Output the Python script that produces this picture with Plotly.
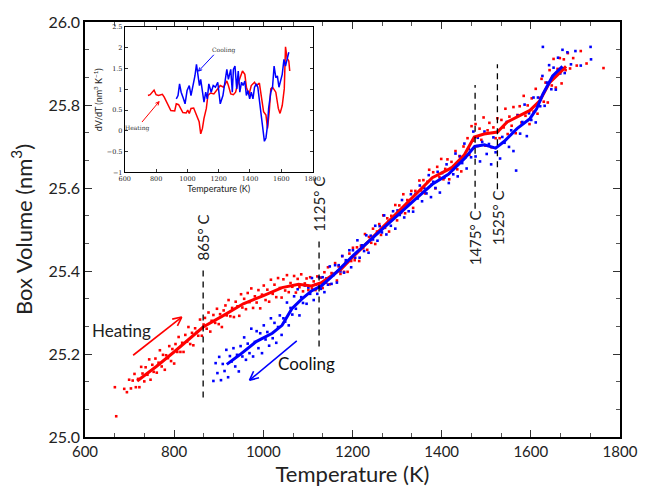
import math
import plotly.graph_objects as go

# ---------------- data ----------------
heat_line_T = [717, 760, 801, 865, 911, 955, 999, 1042, 1079, 1108, 1130, 1174, 1203, 1250, 1300, 1340,
               1379, 1423, 1451, 1473, 1495, 1525, 1547, 1576, 1598, 1620, 1642, 1664, 1679]
heat_line_V = [25.135, 25.170, 25.206, 25.265, 25.293, 25.321, 25.340, 25.360, 25.368, 25.364, 25.372,
               25.404, 25.436, 25.486, 25.540, 25.583, 25.625, 25.649, 25.680, 25.723, 25.730, 25.735,
               25.759, 25.775, 25.787, 25.810, 25.854, 25.877, 25.893]

cool_line_T = [918, 947, 984, 1020, 1042, 1064, 1086, 1108, 1130, 1159, 1203, 1250, 1300, 1340, 1379,
               1415, 1452, 1474, 1496, 1521, 1540, 1569, 1598, 1613, 1627, 1649, 1671]
cool_line_V = [25.175, 25.198, 25.230, 25.250, 25.269, 25.309, 25.332, 25.352, 25.364, 25.392, 25.439,
               25.485, 25.535, 25.572, 25.609, 25.633, 25.672, 25.700, 25.704, 25.696, 25.712, 25.743,
               25.767, 25.791, 25.826, 25.870, 25.893]

heat_pts_T = [670, 667, 688, 694, 699, 703, 707, 711, 714, 719, 722, 726, 729, 733, 736, 740, 744, 747, 751,
              754, 758, 761, 765, 768, 772, 775, 779, 782, 786, 789, 793, 796, 800, 803, 807, 810, 814, 818,
              821, 825, 829, 832, 836, 840, 843, 847, 851, 854, 858, 862, 866, 869, 873, 877, 881, 884, 888,
              892, 896, 900, 903, 907, 911, 915, 918, 922, 926, 930, 934, 938, 942, 946, 950, 953, 957, 961,
              965, 969, 973, 977, 981, 985, 989, 993, 997, 1001, 1005, 1009, 1013, 1017, 1021, 1025, 1029,
              1033, 1037, 1041, 1045, 1049, 1053, 1057, 1061, 1065, 1069, 1073, 1077, 1081, 1085, 1089, 1093,
              1097, 1101, 1105, 1109, 1113, 1117, 1121, 1125, 1129, 1133, 1137, 1141, 1145, 1149, 1153, 1157,
              1161, 1165, 1169, 1173, 1177, 1181, 1185, 1189, 1193, 1197, 1201, 1205, 1210, 1215, 1219, 1224,
              1228, 1233, 1237, 1242, 1246, 1251, 1255, 1260, 1264, 1269, 1273, 1278, 1282, 1287, 1291, 1296,
              1300, 1305, 1309, 1314, 1318, 1323, 1327, 1332, 1336, 1341, 1345, 1350, 1354, 1359, 1363, 1368,
              1372, 1377, 1381, 1386, 1390, 1395, 1399, 1404, 1408, 1413, 1417, 1422, 1426, 1431, 1435, 1440,
              1444, 1449, 1453, 1458, 1462, 1467, 1471, 1476, 1480, 1485, 1489, 1494, 1498, 1503, 1507, 1512,
              1516, 1521, 1525, 1530, 1534, 1539, 1543, 1548, 1552, 1557, 1561, 1566, 1570, 1575, 1579, 1584,
              1588, 1593, 1597, 1602, 1606, 1611, 1615, 1620, 1624, 1629, 1633, 1638, 1642, 1647, 1651, 1656,
              1660, 1665, 1669, 1674, 1678, 1683, 1688, 1695, 1703, 1712, 1725, 1763]
heat_pts_V = [25.050, 25.120, 25.116, 25.108, 25.138, 25.117, 25.136, 25.152, 25.120, 25.140, 25.120, 25.169,
              25.153, 25.134, 25.168, 25.150, 25.187, 25.138, 25.174, 25.157, 25.189, 25.155, 25.179, 25.209,
              25.170, 25.198, 25.162, 25.197, 25.190, 25.219, 25.183, 25.212, 25.177, 25.224, 25.205, 25.241,
              25.205, 25.227, 25.205, 25.246, 25.230, 25.265, 25.224, 25.251, 25.221, 25.262, 25.253, 25.244,
              25.283, 25.244, 25.271, 25.287, 25.261, 25.300, 25.254, 25.280, 25.294, 25.275, 25.309, 25.272,
              25.296, 25.265, 25.305, 25.317, 25.293, 25.330, 25.291, 25.311, 25.289, 25.326, 25.315, 25.292,
              25.344, 25.312, 25.333, 25.308, 25.347, 25.325, 25.358, 25.311, 25.339, 25.324, 25.354, 25.310,
              25.343, 25.365, 25.330, 25.355, 25.326, 25.379, 25.345, 25.367, 25.337, 25.383, 25.359, 25.336,
              25.380, 25.353, 25.390, 25.349, 25.371, 25.362, 25.388, 25.348, 25.381, 25.361, 25.392, 25.351,
              25.370, 25.382, 25.354, 25.385, 25.358, 25.375, 25.354, 25.387, 25.366, 25.384, 25.359, 25.397,
              25.372, 25.409, 25.368, 25.395, 25.390, 25.419, 25.377, 25.411, 25.393, 25.436, 25.398, 25.421,
              25.398, 25.442, 25.424, 25.456, 25.426, 25.457, 25.424, 25.461, 25.455, 25.489, 25.451, 25.482,
              25.468, 25.502, 25.465, 25.495, 25.513, 25.487, 25.534, 25.504, 25.527, 25.495, 25.533, 25.529,
              25.559, 25.522, 25.558, 25.540, 25.585, 25.539, 25.571, 25.563, 25.593, 25.552, 25.593, 25.576,
              25.618, 25.594, 25.619, 25.587, 25.615, 25.644, 25.608, 25.638, 25.599, 25.651, 25.626, 25.670,
              25.621, 25.646, 25.669, 25.621, 25.663, 25.646, 25.689, 25.645, 25.677, 25.640, 25.700, 25.674,
              25.720, 25.680, 25.749, 25.714, 25.754, 25.701, 25.743, 25.716, 25.770, 25.702, 25.739, 25.757,
              25.698, 25.746, 25.720, 25.768, 25.720, 25.764, 25.746, 25.791, 25.730, 25.772, 25.750, 25.795,
              25.732, 25.776, 25.797, 25.758, 25.822, 25.774, 25.799, 25.754, 25.816, 25.784, 25.839, 25.779,
              25.817, 25.863, 25.808, 25.854, 25.806, 25.884, 25.847, 25.911, 25.842, 25.887, 25.913, 25.852,
              25.910, 25.884, 25.925, 25.888, 25.913, 25.895, 25.930, 25.900, 25.889]

cool_pts_T = [888, 893, 897, 901, 905, 909, 913, 917, 921, 925, 929, 933, 937, 941, 945, 949, 953, 957, 961,
              965, 969, 973, 977, 981, 985, 989, 993, 997, 1001, 1005, 1009, 1013, 1017, 1021, 1025, 1029,
              1033, 1037, 1041, 1045, 1049, 1053, 1057, 1061, 1065, 1069, 1073, 1077, 1081, 1085, 1089, 1093,
              1097, 1101, 1105, 1109, 1113, 1117, 1121, 1125, 1129, 1133, 1137, 1141, 1145, 1149, 1153, 1157,
              1161, 1165, 1169, 1173, 1177, 1181, 1185, 1189, 1193, 1197, 1201, 1206, 1211, 1216, 1221, 1226,
              1231, 1236, 1241, 1246, 1251, 1256, 1261, 1266, 1271, 1276, 1281, 1286, 1291, 1296, 1301, 1306,
              1311, 1316, 1321, 1326, 1331, 1336, 1341, 1346, 1351, 1356, 1361, 1366, 1371, 1376, 1381, 1386,
              1391, 1396, 1401, 1406, 1411, 1416, 1421, 1426, 1431, 1436, 1441, 1446, 1451, 1456, 1461, 1466,
              1471, 1476, 1481, 1486, 1491, 1496, 1501, 1506, 1511, 1516, 1521, 1526, 1531, 1536, 1541, 1546,
              1551, 1556, 1561, 1567, 1571, 1576, 1581, 1586, 1591, 1596, 1601, 1606, 1611, 1616, 1621, 1626,
              1627, 1631, 1636, 1641, 1646, 1651, 1656, 1661, 1666, 1671, 1676, 1682, 1690, 1700, 1712, 1734,
              1735]
cool_pts_V = [25.135, 25.178, 25.154, 25.193, 25.137, 25.176, 25.159, 25.210, 25.144, 25.195, 25.182, 25.214,
              25.170, 25.198, 25.158, 25.219, 25.194, 25.240, 25.186, 25.225, 25.202, 25.261, 25.194, 25.229,
              25.255, 25.214, 25.250, 25.202, 25.269, 25.235, 25.253, 25.220, 25.286, 25.238, 25.275, 25.227,
              25.265, 25.293, 25.246, 25.286, 25.278, 25.324, 25.269, 25.311, 25.295, 25.339, 25.309, 25.356,
              25.293, 25.337, 25.323, 25.365, 25.321, 25.360, 25.345, 25.383, 25.330, 25.367, 25.345, 25.385,
              25.357, 25.385, 25.349, 25.382, 25.367, 25.411, 25.369, 25.393, 25.414, 25.372, 25.414, 25.399,
              25.436, 25.396, 25.426, 25.422, 25.450, 25.409, 25.450, 25.432, 25.474, 25.432, 25.462, 25.448,
              25.486, 25.444, 25.485, 25.476, 25.509, 25.473, 25.508, 25.493, 25.534, 25.488, 25.520, 25.509,
              25.544, 25.502, 25.546, 25.535, 25.571, 25.529, 25.561, 25.544, 25.585, 25.543, 25.586, 25.575,
              25.606, 25.568, 25.600, 25.587, 25.631, 25.578, 25.615, 25.600, 25.639, 25.589, 25.636, 25.625,
              25.657, 25.612, 25.648, 25.633, 25.683, 25.628, 25.676, 25.660, 25.707, 25.647, 25.694, 25.674,
              25.736, 25.676, 25.721, 25.664, 25.711, 25.736, 25.682, 25.706, 25.657, 25.722, 25.686, 25.736,
              25.671, 25.723, 25.709, 25.759, 25.699, 25.739, 25.689, 25.642, 25.775, 25.731, 25.759, 25.801,
              25.725, 25.780, 25.764, 25.818, 25.758, 25.818, 25.797, 25.870, 25.940, 25.798, 25.854, 25.896,
              25.838, 25.890, 25.837, 25.914, 25.876, 25.933, 25.877, 25.927, 25.898, 25.930, 25.895, 25.940,
              25.910]

inset_heat_T = [748, 762, 787, 800, 815, 825, 840, 852, 877, 894, 919, 929, 944, 971, 992, 1002, 1012, 1023,
                1040, 1050, 1075, 1085, 1096, 1106, 1121, 1131, 1148, 1169, 1190, 1210, 1231, 1252, 1262, 1277,
                1294, 1308, 1319, 1335, 1352, 1367, 1377, 1394, 1408, 1429, 1440, 1460, 1471, 1487, 1502, 1512,
                1523, 1533, 1544, 1565, 1581, 1592, 1606, 1619, 1627, 1637, 1648, 1654]
inset_heat_dV = [0.85, 0.87, 0.98, 0.87, 0.85, 0.87, 0.88, 0.81, 0.61, 0.49, 0.48, 0.65, 0.63, 0.44, 0.43,
                 0.50, 0.42, 0.54, 0.55, 0.46, 0.22, -0.07, 0.06, 0.30, 0.54, 0.85, 0.91, 0.89, 0.99, 1.09,
                 1.05, 1.20, 1.09, 0.89, 0.87, 0.93, 1.09, 1.28, 1.44, 1.36, 1.05, 0.87, 1.09, 1.17, 1.09,
                 1.15, 0.89, 0.46, 0.38, 0.06, 0.46, 1.01, 1.05, 0.93, 0.54, 0.42, 0.61, 1.01, 2.02, 1.75,
                 1.68, 1.44]

inset_cool_T = [929, 940, 950, 960, 975, 985, 998, 1012, 1023, 1040, 1048, 1058, 1069, 1077, 1085, 1096, 1106,
                1117, 1127, 1137, 1152, 1165, 1179, 1194, 1210, 1227, 1242, 1252, 1262, 1277, 1287, 1294, 1304,
                1315, 1325, 1335, 1346, 1356, 1367, 1377, 1387, 1398, 1408, 1419, 1429, 1440, 1450, 1460, 1471,
                1481, 1492, 1502, 1512, 1519, 1527, 1533, 1544, 1554, 1565, 1575, 1585, 1596, 1606, 1617, 1627,
                1637, 1648]
inset_cool_dV = [0.77, 0.85, 1.13, 0.93, 0.77, 0.65, 0.97, 1.09, 0.85, 1.17, 1.32, 1.60, 1.28, 1.09, 1.24,
                 0.93, 0.69, 0.93, 0.77, 1.13, 0.93, 1.09, 1.05, 1.17, 0.65, 0.85, 1.28, 1.48, 1.24, 1.48,
                 0.93, 1.48, 1.56, 1.01, 1.44, 0.93, 1.17, 1.09, 1.20, 0.85, 0.97, 0.77, 0.93, 0.77, 1.05,
                 1.13, 1.05, 0.77, 0.38, 0.06, -0.25, -0.17, 0.14, 0.54, 0.85, 0.93, 1.05, 1.56, 1.28, 1.32,
                 1.05, 1.24, 1.36, 1.72, 1.56, 1.72, 1.89]

transition_T = [865, 1125, 1475, 1525]
transition_labels = ["865° C", "1125° C", "1475° C", "1525° C"]

RED = "#ff0000"
BLUE = "#0000ff"
FONT = "Lato"

# ---------------- figure ----------------
fig = go.Figure()

fig.add_trace(go.Scatter(x=heat_pts_T, y=heat_pts_V, mode="markers",
                         marker=dict(color=RED, size=2.6, symbol="square"), showlegend=False))
fig.add_trace(go.Scatter(x=cool_pts_T, y=cool_pts_V, mode="markers",
                         marker=dict(color=BLUE, size=2.6, symbol="square"), showlegend=False))
fig.add_trace(go.Scatter(x=heat_line_T, y=heat_line_V, mode="lines",
                         line=dict(color=RED, width=3), showlegend=False))
fig.add_trace(go.Scatter(x=cool_line_T, y=cool_line_V, mode="lines",
                         line=dict(color=BLUE, width=3), showlegend=False))

fig.add_trace(go.Scatter(x=inset_heat_T, y=inset_heat_dV, mode="lines", xaxis="x2", yaxis="y2",
                         line=dict(color=RED, width=1.5), showlegend=False))
fig.add_trace(go.Scatter(x=inset_cool_T, y=inset_cool_dV, mode="lines", xaxis="x2", yaxis="y2",
                         line=dict(color=BLUE, width=1.5), showlegend=False))

shapes = []
annotations = []

# inset white background
ix0, ix1, iy0, iy1 = 0.0744, 0.4254, 0.6374, 0.9882
shapes.append(dict(type="rect", xref="paper", yref="paper", x0=ix0, x1=ix1, y0=iy0, y1=iy1,
                   fillcolor="white", line=dict(width=0), layer="below"))

# dashed transition lines
dash_ranges = [(25.095, 25.412), (25.218, 25.483), (25.550, 25.848), (25.597, 25.898)]
label_y = [25.481, 25.560, 25.479, 25.528]
for T, (y0, y1), lab, ly in zip(transition_T, dash_ranges, transition_labels, label_y):
    shapes.append(dict(type="line", xref="x", yref="y", x0=T, x1=T, y0=y0, y1=y1,
                       line=dict(color="black", width=1.3, dash="6px,5px")))
    annotations.append(dict(x=T, y=ly, xref="x", yref="y", text=lab, showarrow=False, textangle=-90,
                            font=dict(family=FONT, size=15, color="#222")))


def arrow(x0, y0, x1, y1, color, xr, yr, sx, sy, L=10, width=1.5):
    shapes.append(dict(type="line", xref=xr, yref=yr, x0=x0, y0=y0, x1=x1, y1=y1,
                       line=dict(color=color, width=width)))
    th = math.atan2((y1 - y0) * sy, (x1 - x0) * sx)
    for d in (0.45, -0.45):
        bx = x1 - L * math.cos(th + d) / sx
        by = y1 - L * math.sin(th + d) / sy
        shapes.append(dict(type="line", xref=xr, yref=yr, x0=x1, y0=y1, x1=bx, y1=by,
                           line=dict(color=color, width=width)))


SX, SY = 547 / 1200, 422 / 1.0
arrow(708, 25.197, 817, 25.289, RED, "x", "y", SX, SY, L=10, width=1.6)
arrow(1075, 25.2315, 969, 25.137, BLUE, "x", "y", SX, SY, L=10, width=1.6)
annotations.append(dict(x=681, y=25.256, xref="x", yref="y", text="Heating", showarrow=False,
                        font=dict(family=FONT, size=17, color="#222")))
annotations.append(dict(x=1097, y=25.176, xref="x", yref="y", text="Cooling", showarrow=False,
                        font=dict(family=FONT, size=17, color="#111")))

SX2, SY2 = 192 / 1200, 148 / 3.5
arrow(1169, 1.83, 1071, 1.436, BLUE, "x2", "y2", SX2, SY2, L=4, width=1)
arrow(710, 0.213, 819, 0.703, RED, "x2", "y2", SX2, SY2, L=4, width=1)
annotations.append(dict(x=1231, y=1.95, xref="x2", yref="y2", text="Cooling", showarrow=False,
                        font=dict(family="DejaVu Serif", size=6, color="#333")))
annotations.append(dict(x=679, y=0.08, xref="x2", yref="y2", text="Heating", showarrow=False,
                        font=dict(family="DejaVu Serif", size=6, color="#333")))

axis_common = dict(showline=True, linecolor="black", linewidth=1.5, mirror="allticks", ticks="inside",
                   tickcolor="#333", tickwidth=1, showgrid=False, zeroline=False)

fig.update_layout(
    width=650, height=496,
    margin=dict(l=85, r=18, t=15, b=59),
    paper_bgcolor="white", plot_bgcolor="white",
    font=dict(family=FONT, color="#222"),
    xaxis=dict(range=[600, 1800], dtick=200, tick0=600, ticklen=7,
               minor=dict(dtick=200 / 3, tick0=600, ticklen=4, ticks="inside", tickcolor="#555"),
               tickfont=dict(size=15), title=dict(text="Temperature (K)", font=dict(size=22), standoff=8),
               **axis_common),
    yaxis=dict(range=[25.0, 26.0], dtick=0.2, tick0=25.0, tickformat=".1f", ticklen=7,
               minor=dict(dtick=0.2 / 3, tick0=25.0, ticklen=4, ticks="inside", tickcolor="#555"),
               tickfont=dict(size=16), title=dict(text="Box Volume (nm<sup>3</sup>)", font=dict(size=22),
                                                 standoff=10),
               **axis_common),
    xaxis2=dict(domain=[ix0, ix1], anchor="y2", range=[600, 1800], dtick=200, tick0=600, ticklen=3,
                tickfont=dict(size=6.5, family="DejaVu Serif"),
                title=dict(text="Temperature (K)", font=dict(size=9), standoff=2),
                showline=True, linecolor="black", linewidth=1, mirror="allticks", ticks="inside",
                tickcolor="#333", showgrid=False, zeroline=False),
    yaxis2=dict(domain=[iy0, iy1], anchor="x2", range=[-1, 2.5], dtick=0.5, tick0=-1, ticklen=3,
                tickfont=dict(size=6.5, family="DejaVu Serif"),
                title=dict(text="dV/dT (nm<sup>3</sup> K<sup>−1</sup>)", font=dict(size=9), standoff=2),
                showline=True, linecolor="black", linewidth=1, mirror="allticks", ticks="inside",
                tickcolor="#333", showgrid=False, zeroline=False),
    shapes=shapes,
    annotations=annotations,
)

fig.write_html("out.html")
